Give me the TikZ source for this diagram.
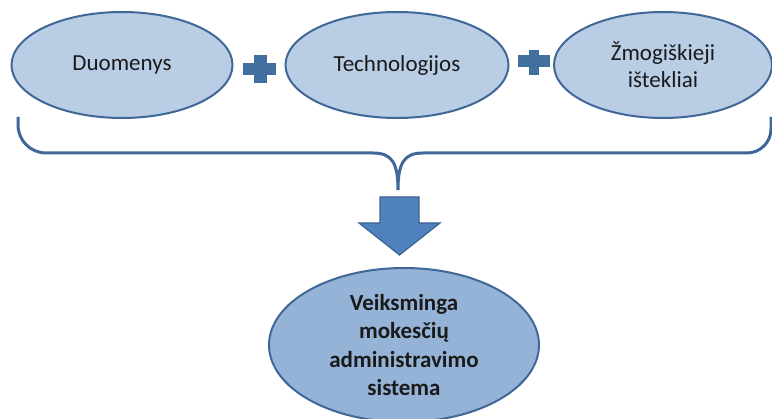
\documentclass[tikz,border=0pt]{standalone}
\usepackage{fontspec}
\setmainfont{Carlito}
\usetikzlibrary{shapes.geometric}
\definecolor{ellfill}{HTML}{B9CDE5}
\definecolor{goalfill}{HTML}{95B3D7}
\definecolor{edge}{HTML}{3F6797}
\definecolor{plusblue}{HTML}{41709F}
\definecolor{arrowfill}{HTML}{4F81BD}
\definecolor{arrowedge}{HTML}{3A6290}
\definecolor{textc}{HTML}{1A1A1A}
\tikzset{
  part/.style={ellipse, draw=edge, fill=ellfill, line width=2pt, inner sep=0pt,
    minimum width=221pt, minimum height=106pt, align=center,
    font=\fontsize{23}{27}\selectfont, text=textc},
  goalnode/.style={ellipse, draw=edge, fill=goalfill, line width=2pt, inner sep=0pt,
    minimum width=270pt, minimum height=154pt, align=center,
    font=\bfseries\fontsize{23}{28.5}\selectfont, text=textc},
  plussign/.style={fill=plusblue},
  bracket/.style={draw=edge, line width=3pt},
  blockarrow/.style={fill=arrowfill, draw=arrowedge, line width=1.2pt, line join=miter}
}
\begin{document}
\begin{tikzpicture}[x=1pt,y=-1pt]
\useasboundingbox (0,0) rectangle (772,419);

% inputs
\node[part] (data) at (122,65) {Duomenys};
\node[part, minimum width=223pt] (tech) at (397,65) {Technologijos};
\node[part, minimum width=218pt] (people) at (663,65) {Žmogiškieji\\ištekliai};

% plus signs between the inputs
\fill[plussign] (243,63) rectangle (276,75);
\fill[plussign] (254,55) rectangle (267,83);
\fill[plussign] (518,55) rectangle (550,67);
\fill[plussign] (529,50) rectangle (539,75);

% bracket gathering the inputs
\coordinate (bl) at (18,117);
\coordinate (br) at (771,117);
\coordinate (tip) at (398,190);
\draw[bracket, rounded corners=28pt] (bl) -- (18,153) -- (373,153);
\draw[bracket] (373,153) .. controls (392,153) and (398,163) .. (tip)
               .. controls (398,163) and (404,153) .. (423,153);
\draw[bracket, rounded corners=24pt] (423,153) -- (771,153) -- (br);

% result
\node[goalnode] (goal) at (404,345) {Veiksminga\\mokesčių\\administravimo\\sistema};

% block arrow towards the result
\draw[blockarrow] (380,197) -- (419,197) -- (419,223) -- (440,223) -- (399.5,255)
  -- (359,223) -- (380,223) -- cycle;
\end{tikzpicture}
\end{document}
